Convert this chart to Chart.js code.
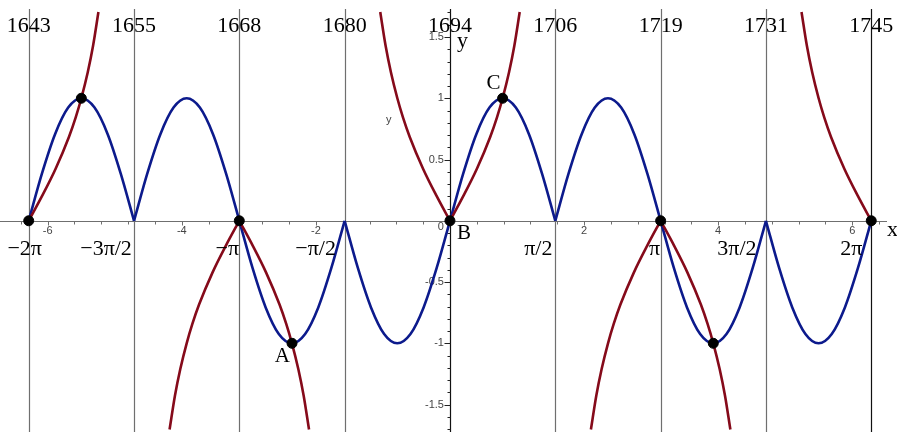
<!DOCTYPE html>
<html>
<head>
<meta charset="utf-8">
<script src="https://cdn.jsdelivr.net/npm/chart.js@4/dist/chart.umd.min.js"></script>
<style>
  html, body { margin: 0; padding: 0; background: #ffffff; }
  #wrap { width: 897px; height: 432px; position: relative; }
</style>
</head>
<body>
<div id="wrap"><canvas id="c" width="897" height="432"></canvas></div>
<script>
// ---------- data ----------
// vertical reference lines (x in radians) and their top labels
const lineValues = [-6.283, -4.712, -3.142, -1.571, 0, 1.571, 3.142, 4.712, 6.283];
const yearLabels = ['1643', '1655', '1668', '1680', '1694', '1706', '1719', '1731', '1745'];
// multiples of pi labels under the x axis (at the same lines, except 0)
const piLabelValues = [-6.283, -4.712, -3.142, -1.571, 1.571, 3.142, 4.712, 6.283];
const piLabels = ['\u22122\u03c0', '\u22123\u03c0/2', '\u2212\u03c0', '\u2212\u03c0/2', '\u03c0/2', '\u03c0', '3\u03c0/2', '2\u03c0'];
// numeric axis ticks
const xTickLabels = [-6, -4, -2, 2, 4, 6];
const yTickLabels = [1.5, 1, 0.5, -0.5, -1, -1.5];

// blue curve: eight arches between multiples of pi/2
const archStarts = [-6.283, -4.712, -3.142, -1.571, 0, 1.571, 3.142, 4.712];
const archSigns = [1, 1, -1, -1, 1, 1, -1, -1];
const archOffsets = [0, 0.196, 0.393, 0.589, 0.785, 0.982, 1.178, 1.374, 1.571];
const archHeights = [0, 0.383, 0.707, 0.924, 1, 0.924, 0.707, 0.383, 0];

// red curve: eight branches leaving the axis at multiples of pi
const branchAnchors = [-6.283, -3.142, -3.142, 0, 0, 3.142, 3.142, 6.283];
const branchDirs = [1, -1, 1, -1, 1, -1, 1, -1];
const branchSigns = [1, -1, -1, 1, 1, -1, -1, 1];
const branchOffsets = [0, 0.2, 0.4, 0.6, 0.7, 0.785, 0.88, 0.96, 1.04];
const branchHeights = [0, 0.203, 0.423, 0.684, 0.842, 1.0, 1.21, 1.428, 1.704];

// marked points
const markerX = [-6.283, -5.498, -3.142, -2.356, 0, 0.785, 3.142, 3.927, 6.283];
const markerY = [0, 1, 0, -1, 0, 1, 0, -1, 0];
const markerNames = ['', '', '', 'A', 'B', 'C', '', '', ''];

// ---------- build datasets ----------
const BLUE = '#0c1a8c';
const RED = '#850a1a';
const datasets = [];

datasets.push({
  label: 'points',
  data: markerX.map(function (x, i) { return { x: x, y: markerY[i] }; }),
  showLine: false,
  pointRadius: 5,
  pointBackgroundColor: '#000',
  pointBorderColor: '#000',
  pointBorderWidth: 1,
  order: 0
});

branchAnchors.forEach(function (a, b) {
  const pts = branchOffsets.map(function (u, i) {
    return { x: a + branchDirs[b] * u, y: branchSigns[b] * branchHeights[i] };
  }).sort(function (p, q) { return p.x - q.x; });
  datasets.push({
    label: 'red' + b,
    data: pts,
    showLine: true,
    borderColor: RED,
    borderWidth: 2.6,
    pointRadius: 0,
    cubicInterpolationMode: 'monotone',
    order: 1
  });
});

archStarts.forEach(function (s, k) {
  const pts = archOffsets.map(function (u, i) {
    return { x: s + u, y: archSigns[k] * archHeights[i] };
  });
  datasets.push({
    label: 'blue' + k,
    data: pts,
    showLine: true,
    borderColor: BLUE,
    borderWidth: 2.6,
    pointRadius: 0,
    cubicInterpolationMode: 'monotone',
    order: 2
  });
});

// ---------- decorations drawn through the chart's scales ----------
const SERIF = '"Liberation Serif", "DejaVu Serif", serif';
const SANS = '"Liberation Sans", "DejaVu Sans", sans-serif';
const piLabelShift = [-4, -28, -12, -29, -17, -6, -29, -20];

const decor = {
  id: 'decor',
  beforeDatasetsDraw: function (chart) {
    const ctx = chart.ctx, xs = chart.scales.x, ys = chart.scales.y;
    const y0 = ys.getPixelForValue(0), x0 = xs.getPixelForValue(0);
    ctx.save();
    // vertical lines
    lineValues.forEach(function (v, i) {
      const px = Math.round(xs.getPixelForValue(v)) + 0.5;
      ctx.beginPath();
      ctx.strokeStyle = (v === 0 || i === lineValues.length - 1) ? '#111' : '#6f6f6f';
      ctx.lineWidth = 1.2;
      ctx.moveTo(px, 9);
      ctx.lineTo(px, chart.height);
      ctx.stroke();
    });
    // x axis
    const ay = Math.round(y0) + 0.5;
    ctx.strokeStyle = '#6f6f6f';
    ctx.lineWidth = 1.2;
    ctx.beginPath();
    ctx.moveTo(0, ay);
    ctx.lineTo(887, ay);
    ctx.stroke();
    // x ticks
    ctx.lineWidth = 1;
    for (let k = -16; k <= 16; k++) {
      const v = k * 0.4;
      const px = Math.round(xs.getPixelForValue(v)) + 0.5;
      const major = Math.abs(v - Math.round(v)) < 1e-6 && Math.round(v) % 2 === 0;
      ctx.beginPath();
      ctx.moveTo(px, ay);
      ctx.lineTo(px, ay + (major ? 4 : 3));
      ctx.stroke();
    }
    // y ticks
    const axx = Math.round(x0) + 0.5;
    ctx.strokeStyle = '#222';
    for (let k = -17; k <= 17; k++) {
      const v = k * 0.1;
      const py = Math.round(ys.getPixelForValue(v)) + 0.5;
      const major = k % 5 === 0;
      ctx.beginPath();
      ctx.moveTo(axx, py);
      ctx.lineTo(axx - (major ? 6 : 3), py);
      ctx.stroke();
    }
    // numeric tick labels
    ctx.fillStyle = '#444';
    ctx.font = '11px ' + SANS;
    ctx.textAlign = 'center';
    ctx.textBaseline = 'middle';
    xTickLabels.forEach(function (v) {
      ctx.fillText(String(v), xs.getPixelForValue(v), y0 + 10);
    });
    ctx.textAlign = 'right';
    ctx.fillText('0', x0 - 6, y0 + 6);
    yTickLabels.forEach(function (v) {
      ctx.fillText(String(v), x0 - 6, ys.getPixelForValue(v));
    });
    ctx.textAlign = 'left';
    ctx.fillText('y', 386, 120);
    ctx.restore();
  },
  afterDatasetsDraw: function (chart) {
    const ctx = chart.ctx, xs = chart.scales.x, ys = chart.scales.y;
    const y0 = ys.getPixelForValue(0), x0 = xs.getPixelForValue(0);
    ctx.save();
    ctx.fillStyle = '#000';
    ctx.textBaseline = 'alphabetic';
    // top year labels
    ctx.font = '22px ' + SERIF;
    ctx.textAlign = 'center';
    lineValues.forEach(function (v, i) {
      ctx.fillText(yearLabels[i], xs.getPixelForValue(v), 32);
    });
    // pi labels
    piLabelValues.forEach(function (v, i) {
      ctx.fillText(piLabels[i], xs.getPixelForValue(v) + piLabelShift[i], y0 + 34);
    });
    // axis names
    ctx.textAlign = 'left';
    ctx.fillText('x', 887, y0 + 15);
    ctx.fillText('y', x0 + 7, 47);
    // point names
    ctx.font = '21px ' + SERIF;
    markerNames.forEach(function (n, i) {
      if (!n) return;
      const px = xs.getPixelForValue(markerX[i]);
      const py = ys.getPixelForValue(markerY[i]);
      if (n === 'A') { ctx.textAlign = 'right'; ctx.fillText(n, px - 2, py + 19); }
      else if (n === 'B') { ctx.textAlign = 'left'; ctx.fillText(n, px + 7, py + 18); }
      else if (n === 'C') { ctx.textAlign = 'right'; ctx.fillText(n, px - 2, py - 9); }
    });
    ctx.restore();
  }
};

new Chart(document.getElementById('c'), {
  type: 'scatter',
  data: { datasets: datasets },
  options: {
    responsive: false,
    animation: false,
    layout: { padding: 0, autoPadding: false },
    scales: {
      x: { type: 'linear', min: -6.711, max: 6.667, display: false },
      y: { type: 'linear', min: -1.724, max: 1.802, display: false }
    },
    plugins: { legend: { display: false }, tooltip: { enabled: false } },
    elements: { line: { fill: false } }
  },
  plugins: [decor]
});
</script>
</body>
</html>
